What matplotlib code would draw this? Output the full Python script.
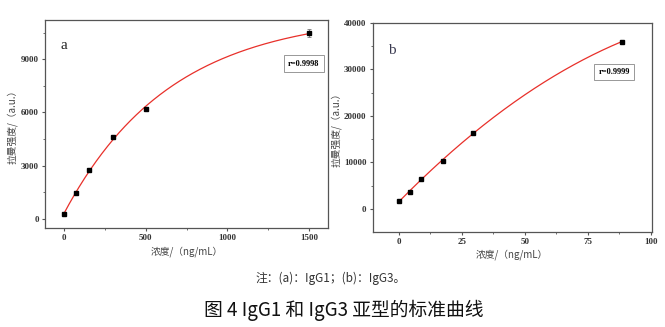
import numpy as np
import matplotlib
matplotlib.use("Agg")
import matplotlib.pyplot as plt

# ---- data ----
xa = [0, 75, 150, 300, 500, 1500]
ya = [300, 1480, 2760, 4610, 6200, 10470]
ea = [60, 120, 80, 70, 120, 220]
ra = "r=0.9998"

xb = [0, 4.4, 8.8, 17.6, 29.4, 88.4]
yb = [1790, 3650, 6440, 10380, 16390, 35920]
eb = [100, 120, 120, 120, 150, 200]
rb = "r=0.9999"

xticks_a = [0, 500, 1000, 1500]
yticks_a = [0, 3000, 6000, 9000]
xticks_b = [0, 25, 50, 75, 100]
yticks_b = [0, 10000, 20000, 30000, 40000]

xlabel = "浓度/（ng/mL）"
ylabel = "拉曼强度/（a.u.）"
note = "注：(a)：IgG1；(b)：IgG3。"
title = "图 4 IgG1 和 IgG3 亚型的标准曲线"

cjk = ["Noto Sans CJK SC", "DejaVu Sans"]
serif = ["Liberation Serif", "Noto Sans CJK SC"]

def exp_fit(x, y):
    x = np.asarray(x, float); y = np.asarray(y, float)
    best = None
    for t in np.linspace(50, 5000, 2000):
        M = np.column_stack([np.ones_like(x), 1 - np.exp(-x / t)])
        coef, res, *_ = np.linalg.lstsq(M, y, rcond=None)
        err = np.sum((M @ coef - y) ** 2)
        if best is None or err < best[0]:
            best = (err, t, coef)
    _, t, coef = best
    return lambda z: coef[0] + coef[1] * (1 - np.exp(-z / t))

fig = plt.figure(figsize=(6.65, 3.27), dpi=100)
axa = fig.add_axes([0.0677, 0.303, 0.4253, 0.636])
axb = fig.add_axes([0.5605, 0.2914, 0.4195, 0.6392])

gray = "#555555"

def style(ax):
    for s in ax.spines.values():
        s.set_color(gray)
        s.set_linewidth(0.9)
    ax.tick_params(direction="out", length=2.5, width=0.8, color=gray,
                   labelsize=6.5, pad=2)
    for lab in ax.get_xticklabels() + ax.get_yticklabels():
        lab.set_fontfamily(serif)
        lab.set_fontweight("bold")
        lab.set_color("#333333")

# panel a
fa = exp_fit(xa, ya)
xx = np.linspace(0, max(xa), 300)
axa.plot(xx, fa(xx), color="#e8302a", lw=0.9, zorder=2)
axa.errorbar(xa, ya, yerr=ea, fmt="s", color="black", ms=3.3, elinewidth=0.6,
             capsize=1.2, capthick=0.6, ecolor="#777777", zorder=3)
axa.set_xlim(-118, 1616)
axa.set_ylim(-510, 11220)
axa.set_xticks(xticks_a)
axa.set_xticks([250, 750, 1250], minor=True)
axa.set_yticks(yticks_a)
axa.set_yticks([1500, 4500, 7500, 10500], minor=True)
axa.tick_params(which="minor", direction="out", length=1.5, width=0.6, color=gray)
style(axa)
axa.text(0.055, 0.86, "a", transform=axa.transAxes, fontsize=11, family=serif,
         color="#222222")
axa.text(0.915, 0.79, ra, transform=axa.transAxes, fontsize=6, family=serif,
         fontweight="bold", ha="center", va="center",
         bbox=dict(boxstyle="square,pad=0.5", fc="white", ec="#888888", lw=0.6))
axa.set_xlabel(xlabel, fontsize=7, family=cjk, color="#444444", labelpad=3)
axa.set_ylabel(ylabel, fontsize=7, family=cjk, color="#444444", labelpad=2)

# panel b
cb = np.polyfit(xb, yb, 2)
xx = np.linspace(0, max(xb), 300)
axb.plot(xx, np.polyval(cb, xx), color="#e8302a", lw=0.9, zorder=2)
axb.errorbar(xb, yb, yerr=eb, fmt="s", color="black", ms=3.3, elinewidth=0.6,
             capsize=1.2, capthick=0.6, ecolor="#777777", zorder=3)
axb.set_xlim(-10.4, 100.3)
axb.set_ylim(-4900, 40000)
axb.set_xticks(xticks_b)
axb.set_xticks([12.5, 37.5, 62.5, 87.5], minor=True)
axb.set_yticks(yticks_b)
axb.set_yticks([5000, 15000, 25000, 35000], minor=True)
axb.tick_params(which="minor", direction="out", length=1.5, width=0.6, color=gray)
style(axb)
axb.text(0.055, 0.85, "b", transform=axb.transAxes, fontsize=11, family=serif,
         color="#3a3a50")
axb.text(0.865, 0.765, rb, transform=axb.transAxes, fontsize=6, family=serif,
         fontweight="bold", ha="center", va="center",
         bbox=dict(boxstyle="square,pad=0.5", fc="white", ec="#888888", lw=0.6))
axb.set_xlabel(xlabel, fontsize=7, family=cjk, color="#444444", labelpad=2)
axb.set_ylabel(ylabel, fontsize=7, family=cjk, color="#444444", labelpad=2)

fig.text(0.497, 0.150, note, ha="center", va="center", fontsize=8.5,
         family=cjk, color="#333333")
fig.text(0.517, 0.052, title, ha="center", va="center", fontsize=13.5,
         family=cjk, color="#111111")

fig.savefig("out.png", dpi=100)
